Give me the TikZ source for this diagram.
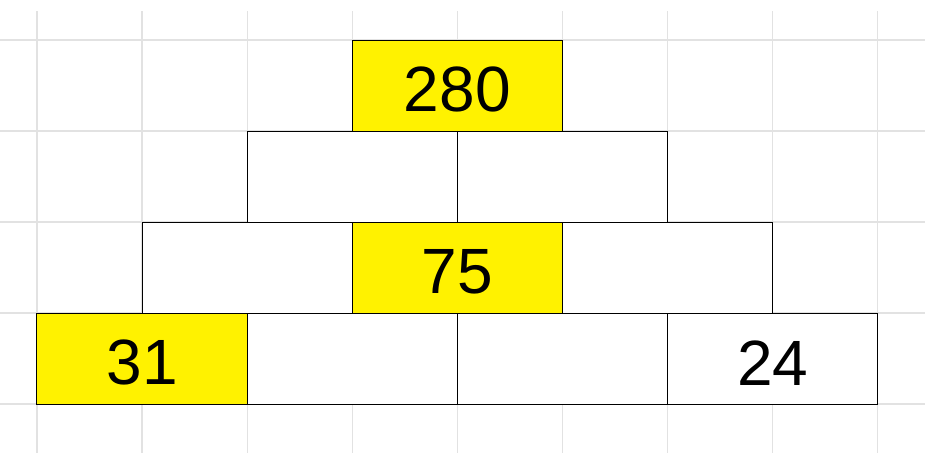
\documentclass[tikz,border=0pt]{standalone}
\usepackage{fontspec}
\setmainfont{Liberation Sans}
\definecolor{gridgray}{HTML}{E2E2E2}
\tikzset{
  brick/.style={draw, line width=1pt, fill=white, minimum width=210.2pt,
    minimum height=91pt, inner sep=0pt, outer sep=0pt, text height=53pt,
    font=\fontsize{64}{64}\selectfont},
  hot/.style={brick, fill=yellow}
}

\begin{document}
\begin{tikzpicture}[x=105.1pt, y=91pt]
  \useasboundingbox (-0.352, -0.736) rectangle (8.497, 4.440);

  \foreach \i in {0, 1, 2, 3, 4} {
    \draw[gridgray, line width=1.2pt] (-0.352, \i) -- (8.449, \i);
  }
  \foreach \j in {0, ..., 8} {
    \draw[gridgray, line width=1.2pt] (\j, -0.538) -- (\j, 4.319);
  }

  \node[hot] (d1) at (1, 0.5) {31};
  \node[brick] (d2) at (3, 0.5) {};
  \node[brick] (d3) at (5, 0.5) {};
  \node[brick] (d4) at (7, 0.5) {24};

  \node[brick] (c1) at (2, 1.5) {};
  \node[hot] (c2) at (4, 1.5) {75};
  \node[brick] (c3) at (6, 1.5) {};

  \node[brick] (b1) at (3, 2.5) {};
  \node[brick] (b2) at (5, 2.5) {};

  \node[hot] (a1) at (4, 3.5) {280};

\end{tikzpicture}
\end{document}
